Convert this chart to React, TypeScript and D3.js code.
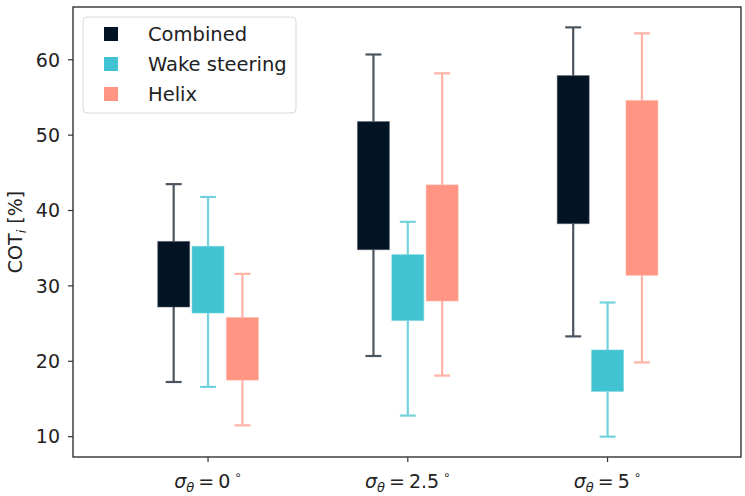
import * as d3 from "d3";

const W = 745;
const H = 496;
const MARGIN = { top: 7, right: 4, bottom: 39, left: 73 };

// sigma_theta values (deg) for each group
const categories = ["0", "2.5", "5"];
const seriesNames = ["Combined", "Wake steering", "Helix"];
const boxColors = ["#021424", "#41c3d1", "#ff9582"];
const whiskerColors = ["#4b5560", "#72d3de", "#ffb2a6"];

// box statistics, one entry per category
const combinedLow = [17.25, 20.7, 23.3];
const combinedQ1 = [27.2, 34.8, 38.25];
const combinedQ3 = [35.9, 51.8, 57.9];
const combinedHigh = [43.5, 60.7, 64.3];

const wakeLow = [16.6, 12.8, 10.0];
const wakeQ1 = [26.4, 25.4, 16.0];
const wakeQ3 = [35.25, 34.15, 21.5];
const wakeHigh = [41.8, 38.5, 27.8];

const helixLow = [11.5, 18.1, 19.85];
const helixQ1 = [17.5, 28.0, 31.4];
const helixQ3 = [25.8, 43.4, 54.6];
const helixHigh = [31.6, 58.2, 63.5];

const yTicks = [10, 20, 30, 40, 50, 60];

const stats = [
  { low: combinedLow, q1: combinedQ1, q3: combinedQ3, high: combinedHigh },
  { low: wakeLow, q1: wakeQ1, q3: wakeQ3, high: wakeHigh },
  { low: helixLow, q1: helixQ1, q3: helixQ3, high: helixHigh },
];

const BOX_W = 0.16;
const OFFSET = 0.172;
const FONT = "DejaVu Sans";

export default function App() {
  const boundsW = W - MARGIN.left - MARGIN.right;
  const boundsH = H - MARGIN.top - MARGIN.bottom;

  const xScale = d3.scaleLinear().domain([-0.676, 2.668]).range([0, boundsW]);
  const yScale = d3.scaleLinear().domain([7.3, 67.0]).range([boundsH, 0]);
  const px = (v: number) => xScale(v) - xScale(0);

  const boxes = stats.flatMap((s, si) =>
    categories.map((_, ci) => {
      const cx = xScale(ci + (si - 1) * OFFSET);
      const bw = px(BOX_W);
      const cap = bw / 2;
      return (
        <g key={`${si}-${ci}`}>
          <line
            x1={cx}
            x2={cx}
            y1={yScale(s.high[ci])}
            y2={yScale(s.q3[ci])}
            stroke={whiskerColors[si]}
            strokeWidth={2.2}
          />
          <line
            x1={cx}
            x2={cx}
            y1={yScale(s.q1[ci])}
            y2={yScale(s.low[ci])}
            stroke={whiskerColors[si]}
            strokeWidth={2.2}
          />
          <line
            x1={cx - cap / 2}
            x2={cx + cap / 2}
            y1={yScale(s.high[ci])}
            y2={yScale(s.high[ci])}
            stroke={whiskerColors[si]}
            strokeWidth={2.2}
          />
          <line
            x1={cx - cap / 2}
            x2={cx + cap / 2}
            y1={yScale(s.low[ci])}
            y2={yScale(s.low[ci])}
            stroke={whiskerColors[si]}
            strokeWidth={2.2}
          />
          <rect
            x={cx - bw / 2}
            y={yScale(s.q3[ci])}
            width={bw}
            height={yScale(s.q1[ci]) - yScale(s.q3[ci])}
            fill={boxColors[si]}
            stroke={whiskerColors[si]}
            strokeOpacity={0.5}
            strokeWidth={1}
          />
        </g>
      );
    })
  );

  return (
    <svg
      width={W}
      height={H}
      style={{ position: "absolute", left: 0, top: 0, background: "#fff" }}
      fontFamily={FONT}
    >
      <g transform={`translate(${MARGIN.left},${MARGIN.top})`}>
        {boxes}

        {/* spines */}
        <rect
          x={0}
          y={0}
          width={boundsW}
          height={boundsH}
          fill="none"
          stroke="#333"
          strokeWidth={1.4}
        />

        {/* y axis */}
        {yTicks.map((t) => (
          <g key={t} transform={`translate(0,${yScale(t)})`}>
            <line x1={-5} x2={0} stroke="#333" strokeWidth={1.2} />
            <text x={-13} dy="0.36em" textAnchor="end" fontSize={19} fill="#222">
              {t}
            </text>
          </g>
        ))}
        <text
          transform={`translate(${22 - MARGIN.left},${boundsH / 2}) rotate(-90)`}
          textAnchor="middle"
          fontSize={19}
          fill="#222"
        >
          COT
          <tspan fontStyle="italic" fontSize={13} dy={4}>
            i
          </tspan>
          <tspan dy={-4}> [%]</tspan>
        </text>

        {/* x axis */}
        {categories.map((c, ci) => (
          <g key={c} transform={`translate(${xScale(ci)},${boundsH})`}>
            <line y1={0} y2={5} stroke="#333" strokeWidth={1.2} />
            <text y={31} textAnchor="middle" fontSize={19} fill="#222">
              <tspan fontStyle="italic">σ</tspan>
              <tspan fontStyle="italic" fontSize={13} dy={4}>
                θ
              </tspan>
              <tspan dy={-4} dx={4}>
                =
              </tspan>
              <tspan dx={4}>{c}</tspan>
              <tspan fontSize={12} dy={-9} dx={4}>
                ∘
              </tspan>
            </text>
          </g>
        ))}

        {/* legend */}
        <g transform="translate(10,10)">
          <rect
            x={0}
            y={0}
            width={213}
            height={96}
            rx={4}
            fill="#fff"
            fillOpacity={0.8}
            stroke="#d9d9d9"
          />
          {seriesNames.map((n, i) => (
            <g key={n} transform={`translate(0,${17 + i * 30})`}>
              <rect x={21} y={-7} width={14} height={14} fill={boxColors[i]} />
              <text x={65} dy="0.36em" fontSize={19.5} fill="#222">
                {n}
              </text>
            </g>
          ))}
        </g>
      </g>
    </svg>
  );
}
